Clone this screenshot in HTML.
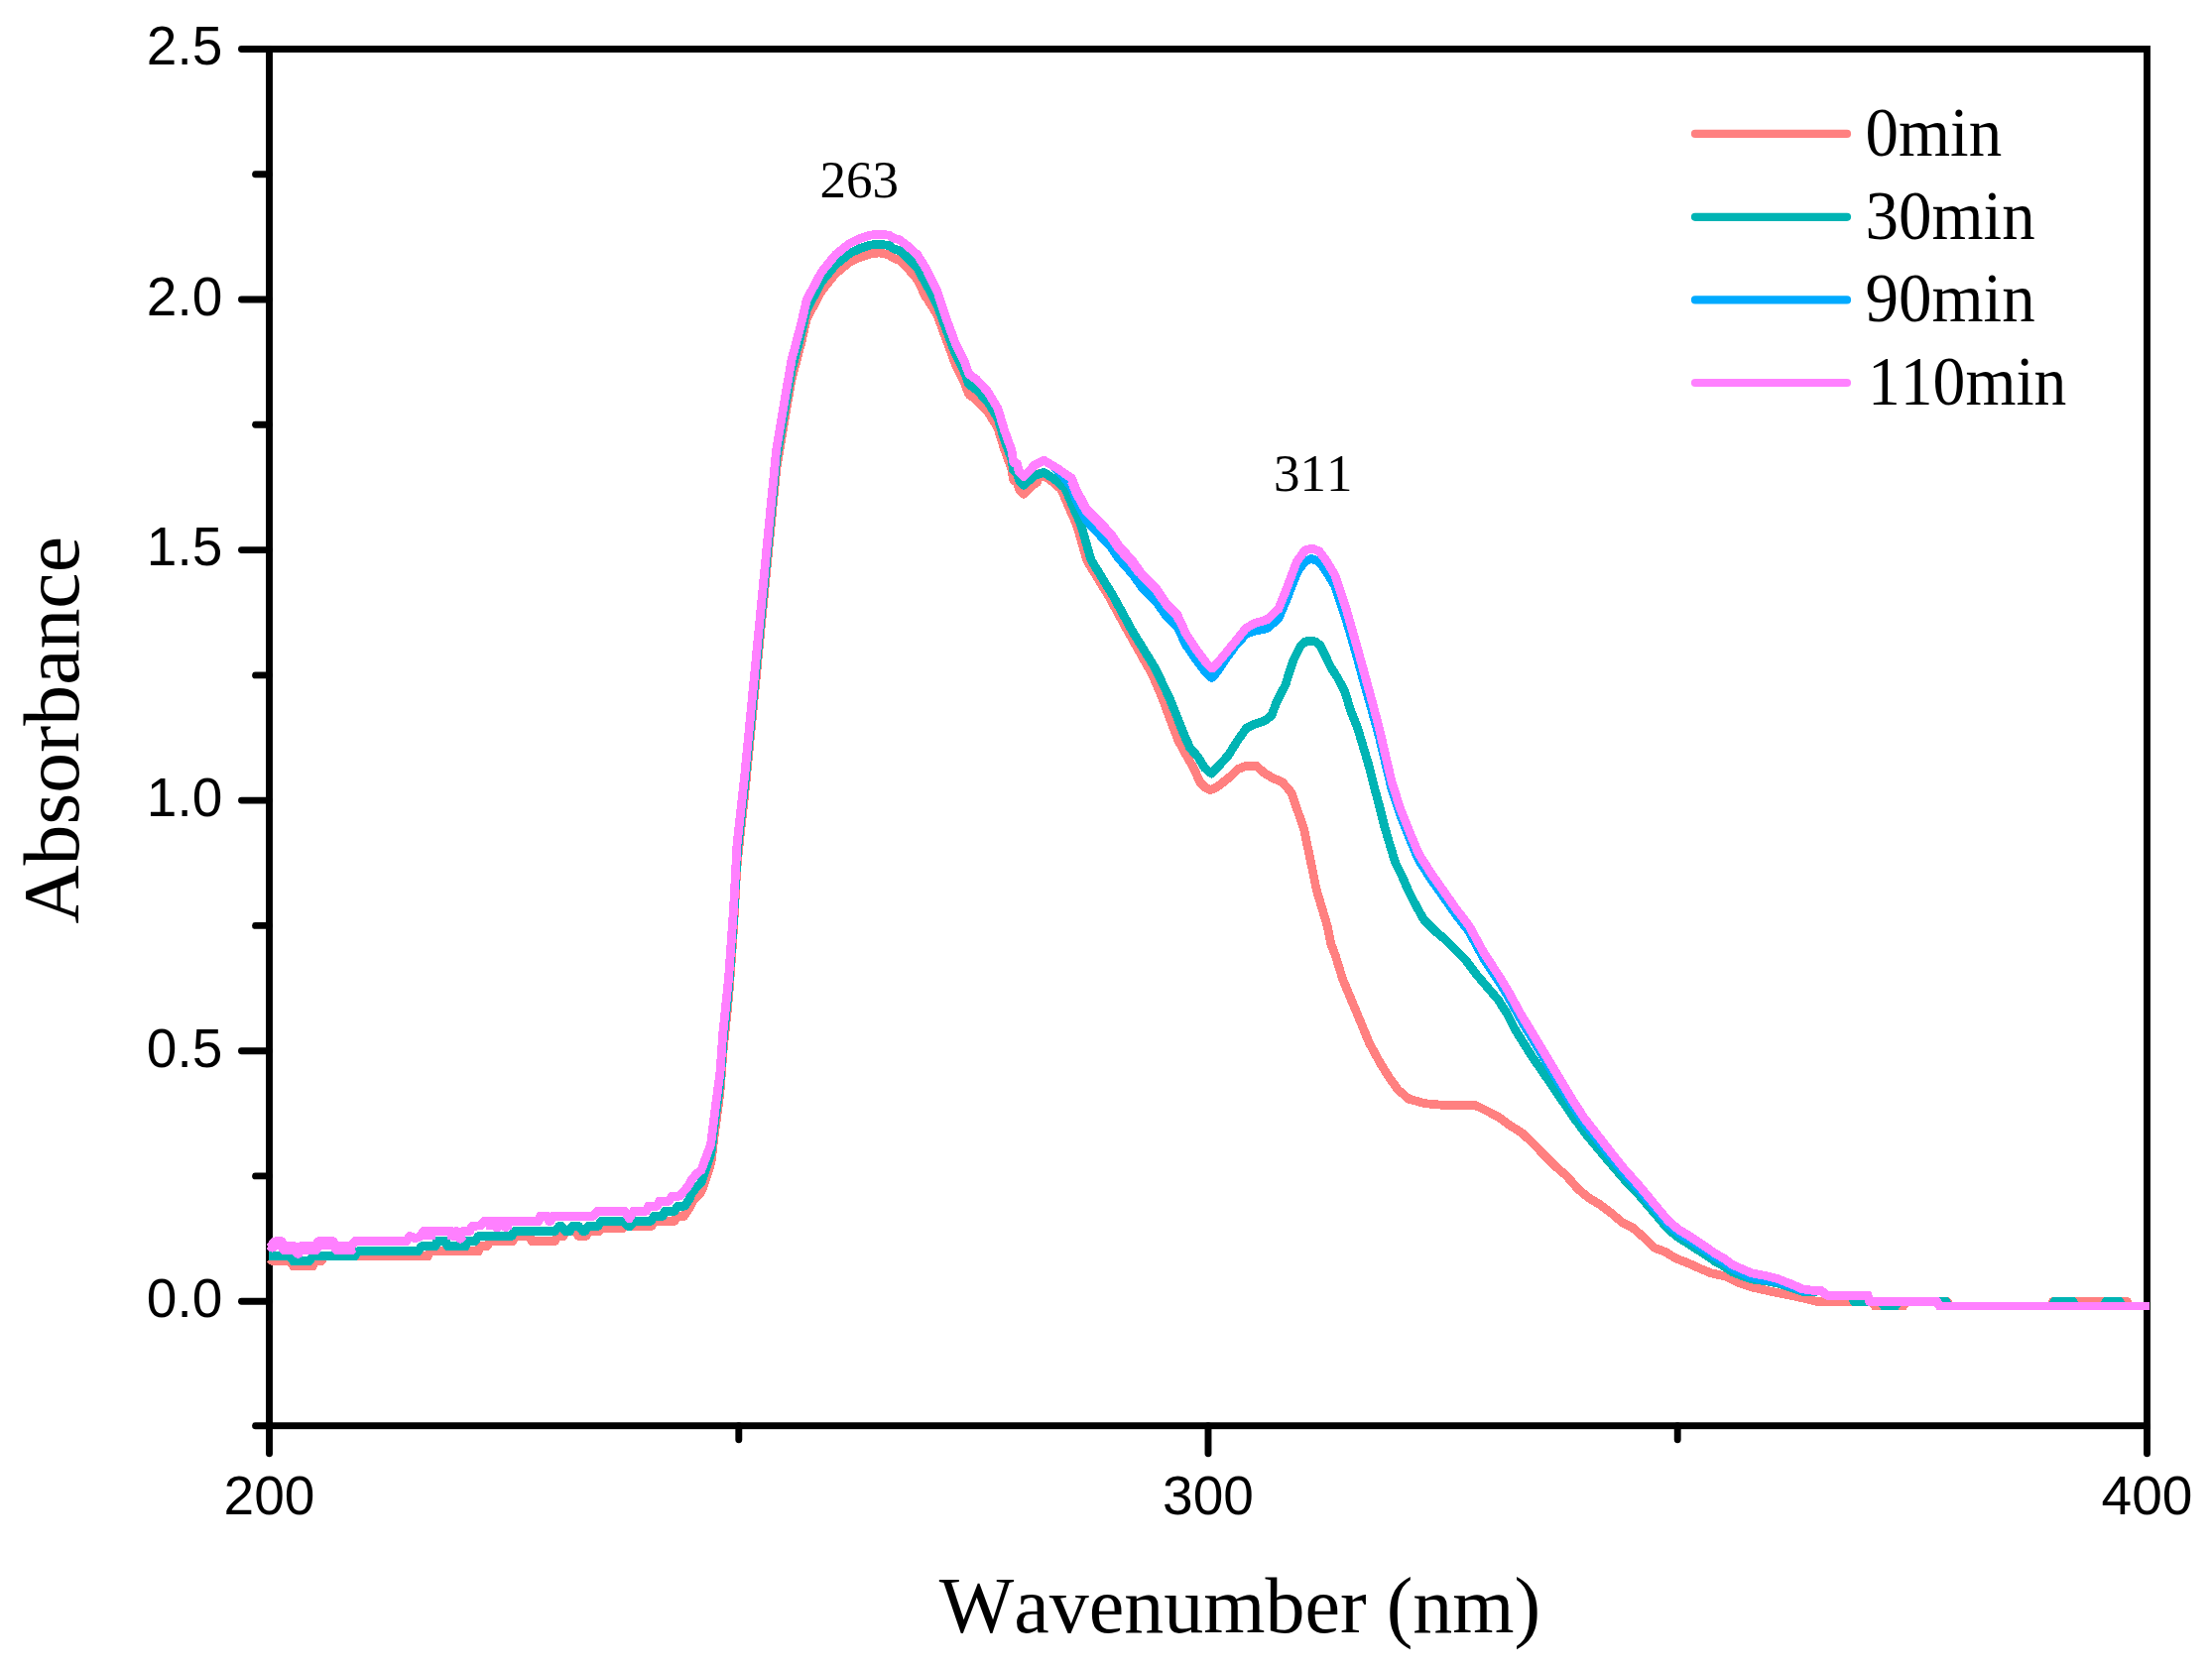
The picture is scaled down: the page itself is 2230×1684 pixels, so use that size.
<!DOCTYPE html>
<html lang="en"><head><meta charset="utf-8"><title>Absorbance spectra</title>
<style>html,body{margin:0;padding:0;background:#fff}svg{display:block}</style></head>
<body>
<svg width="2230" height="1684" viewBox="0 0 2230 1684">
<rect width="2230" height="1684" fill="#fff"/>
<g stroke="#000" stroke-width="6.9" fill="none" stroke-linecap="round">
<line x1="257.5" y1="1437.7" x2="271.5" y2="1437.7"/>
<line x1="243.5" y1="1312.2" x2="271.5" y2="1312.2"/>
<line x1="257.5" y1="1185.9" x2="271.5" y2="1185.9"/>
<line x1="243.5" y1="1059.7" x2="271.5" y2="1059.7"/>
<line x1="257.5" y1="933.4" x2="271.5" y2="933.4"/>
<line x1="243.5" y1="807.1" x2="271.5" y2="807.1"/>
<line x1="257.5" y1="680.9" x2="271.5" y2="680.9"/>
<line x1="243.5" y1="554.6" x2="271.5" y2="554.6"/>
<line x1="257.5" y1="428.3" x2="271.5" y2="428.3"/>
<line x1="243.5" y1="302.0" x2="271.5" y2="302.0"/>
<line x1="257.5" y1="175.8" x2="271.5" y2="175.8"/>
<line x1="243.5" y1="49.5" x2="271.5" y2="49.5"/>
<line x1="271.5" y1="1437.7" x2="271.5" y2="1465.7"/>
<line x1="744.8" y1="1437.7" x2="744.8" y2="1451.7"/>
<line x1="1218.0" y1="1437.7" x2="1218.0" y2="1465.7"/>
<line x1="1691.2" y1="1437.7" x2="1691.2" y2="1451.7"/>
<line x1="2164.5" y1="1437.7" x2="2164.5" y2="1465.7"/>
</g>
<rect x="271.5" y="49.5" width="1893.0" height="1388.2" fill="none" stroke="#000" stroke-width="6.9"/>
<g fill="none" stroke-width="8.8" stroke-linejoin="round" stroke-linecap="butt" shape-rendering="crispEdges">
<path stroke="#FF8080" d="M271.4 1269.3L275.2 1271.8L292.5 1271.8L295.8 1276.8L315.3 1276.8L317.5 1271.8L324.0 1271.8L327.3 1266.7L431.4 1266.7L433.6 1261.7L482.4 1261.7L483.5 1256.6L491.1 1256.6L493.3 1251.6L517.1 1251.6L518.8 1246.5L534.5 1246.5L536.1 1251.6L559.4 1251.6L562.1 1246.5L568.1 1246.5L570.3 1241.5L580.1 1241.5L583.3 1246.5L590.9 1246.5L593.1 1241.5L603.9 1241.5L606.6 1238.5L627.8 1238.5L630.0 1236.4L657.1 1236.4L659.3 1231.4L679.9 1231.4L682.0 1226.3L689.6 1226.3L690.0 1225.2L691.5 1223.2L693.0 1221.2L694.5 1219.0L696.0 1215.9L697.5 1212.8L699.0 1210.6L700.5 1208.7L702.0 1206.8L703.5 1205.3L705.0 1203.9L706.5 1202.5L708.0 1199.1L709.5 1194.8L711.0 1190.5L712.5 1186.1L714.0 1181.8L715.5 1177.5L717.0 1171.3L718.5 1159.1L720.0 1146.8L721.5 1134.8L723.0 1123.6L724.5 1112.3L726.0 1101.1L727.5 1080.3L729.0 1059.8L730.5 1045.4L732.0 1031.0L733.5 1016.5L735.0 1000.4L736.5 979.4L738.0 958.4L739.5 936.9L741.0 908.9L742.5 880.9L744.0 862.5L745.5 848.9L747.0 835.2L748.5 821.6L750.0 807.9L751.5 793.6L753.0 778.2L754.5 762.8L756.0 747.3L757.5 731.9L759.0 716.5L760.5 701.1L762.0 685.7L763.5 670.3L765.0 654.9L766.5 639.5L768.0 624.1L769.5 608.7L771.0 593.3L772.5 577.9L774.0 562.5L775.5 547.1L777.0 531.7L778.5 516.3L780.0 500.9L781.5 485.5L783.0 471.1L784.5 462.1L786.0 453.1L787.5 444.1L789.0 435.1L790.5 426.1L792.0 417.1L793.5 408.5L795.0 399.9L796.5 391.4L798.0 382.8L799.5 376.9L801.0 371.2L802.5 365.5L804.0 359.9L805.5 354.2L807.0 348.5L808.5 342.4L810.0 335.8L811.5 329.3L813.0 322.7L814.5 319.2L816.0 316.3L817.5 313.5L819.0 310.7L820.5 307.9L822.0 305.1L823.5 302.3L825.0 299.5L826.5 296.6L828.0 293.8L829.5 291.8L831.0 289.9L832.5 288.1L834.0 286.2L835.5 284.3L837.0 282.5L838.5 280.6L840.0 278.8L841.5 276.9L843.0 275.3L844.5 274.1L846.0 272.9L847.5 271.7L849.0 270.4L850.5 269.2L852.0 268.0L853.5 266.8L855.0 265.6L856.5 264.4L858.0 263.7L859.5 263.0L861.0 262.2L862.5 261.5L864.0 260.8L865.5 260.0L867.0 259.4L868.5 258.9L870.0 258.4L871.5 257.9L873.0 257.4L874.5 256.9L876.0 256.4L877.5 255.9L879.0 255.7L880.5 255.6L882.0 255.4L883.5 255.3L885.0 255.1L886.5 255.0L888.0 255.3L889.5 255.6L891.0 255.8L892.5 256.1L894.0 256.4L895.5 256.7L897.0 257.3L898.5 258.5L900.0 259.7L901.5 260.5L903.0 261.1L904.5 261.6L906.0 262.2L907.5 263.2L909.0 264.4L910.5 265.7L912.0 267.2L913.5 268.7L915.0 270.5L916.5 272.2L918.0 274.0L919.5 275.7L921.0 277.4L922.5 279.2L924.0 280.9L925.5 283.1L927.0 286.3L928.5 289.5L930.0 292.6L931.5 295.8L933.0 299.0L934.5 300.9L936.0 303.3L937.5 305.7L939.0 308.1L940.5 310.5L942.0 312.9L943.5 315.2L945.0 317.7L946.5 321.8L948.0 326.0L949.5 330.1L951.0 334.3L952.5 338.4L954.0 342.6L955.5 346.5L957.0 350.6L958.5 354.6L960.0 358.7L961.5 362.8L963.0 366.8L964.5 369.9L966.0 372.9L967.5 375.9L969.0 378.9L970.5 381.9L972.0 384.9L973.5 388.8L975.0 393.0L976.5 397.2L978.0 398.8L979.5 399.8L981.0 400.8L982.5 401.9L984.0 402.9L985.5 404.3L987.0 405.9L988.5 407.4L990.0 409.0L991.5 410.5L993.0 412.1L994.5 413.6L996.0 415.4L997.5 417.8L999.0 420.3L1000.5 422.7L1002.0 425.1L1003.5 427.5L1005.0 429.9L1006.5 433.3L1008.0 438.2L1009.5 443.0L1011.0 447.9L1012.5 452.8L1014.0 456.9L1015.5 460.9L1017.0 465.0L1018.5 469.0L1020.0 473.0L1021.5 483.4L1023.0 485.1L1024.5 485.5L1026.0 487.7L1027.5 493.6L1029.0 495.1L1030.5 496.6L1032.0 498.1L1033.5 496.9L1035.0 495.4L1036.5 493.9L1038.0 492.4L1039.5 491.0L1041.0 489.7L1042.5 488.3L1044.0 487.2L1045.5 486.6L1048.4 477.4L1059.3 484.3L1069.8 493.3L1085.5 529.5L1096.0 565.7L1118.1 601.8L1137.9 638.0L1161.6 680.0L1171.6 703.5L1179.7 725.2L1187.9 746.9L1196.9 763.2L1204.1 775.8L1209.6 788.5L1215.0 794.0L1220.4 796.6L1226.0 794.0L1231.3 790.3L1240.3 783.1L1247.5 775.8L1256.6 772.2L1266.5 772.2L1274.7 779.5L1283.7 784.9L1292.7 788.5L1301.8 799.3L1308.1 817.4L1314.4 835.5L1319.0 857.2L1323.5 878.9L1327.1 897.0L1332.5 915.1L1338.0 933.2L1341.6 951.3L1346.3 963.5L1353.5 987.0L1362.5 1008.7L1371.6 1030.4L1380.6 1052.1L1391.5 1072.0L1400.5 1086.5L1409.6 1099.1L1420.4 1108.2L1436.7 1112.7L1456.6 1114.5L1487.3 1114.5L1498.2 1119.9L1510.8 1126.3L1521.7 1134.4L1534.3 1142.5L1547.0 1154.3L1557.8 1166.0L1566.9 1175.1L1579.5 1185.9L1590.4 1198.6L1601.2 1207.6L1613.6 1215.1L1624.4 1223.2L1635.3 1232.7L1646.1 1238.1L1657.0 1247.6L1667.8 1258.2L1678.7 1262.3L1689.5 1269.0L1700.4 1273.1L1713.9 1279.2L1724.8 1283.7L1739.7 1287.1L1751.9 1293.2L1765.5 1297.8L1780.4 1301.2L1800.7 1305.3L1822.4 1310.0L1830.6 1312.2L1888.0 1312.4L1890.0 1316.9L1919.0 1316.9L1921.0 1312.4L1963.0 1312.4L1965.5 1316.9L2067.5 1316.9L2069.5 1312.4L2144.5 1312.4L2146.5 1316.9L2167.0 1316.9"/>
<path stroke="#00B4B4" d="M271.4 1266.7L292.5 1266.7L295.8 1271.8L312.1 1271.8L315.3 1266.7L357.6 1266.7L360.9 1261.7L421.7 1261.7L424.9 1256.6L439.0 1256.6L440.1 1251.6L449.9 1251.6L450.9 1256.6L469.4 1256.6L470.5 1251.6L479.2 1251.6L482.4 1246.5L516.0 1246.5L518.2 1241.5L559.4 1241.5L563.8 1236.4L565.9 1236.4L570.3 1241.5L574.6 1241.5L576.8 1236.4L583.3 1236.4L587.6 1241.5L589.8 1241.5L593.1 1236.4L602.8 1236.4L606.1 1231.4L628.9 1231.4L633.2 1236.4L635.4 1236.4L639.7 1231.4L656.0 1231.4L659.3 1226.3L667.9 1226.3L670.1 1221.3L679.9 1221.3L683.1 1216.2L690.0 1216.2L691.5 1214.2L693.0 1212.1L694.5 1209.9L696.0 1206.7L697.5 1203.6L699.0 1201.3L700.5 1199.4L702.0 1197.5L703.5 1195.9L705.0 1194.4L706.5 1193.0L708.0 1189.6L709.5 1185.2L711.0 1180.8L712.5 1176.4L714.0 1172.0L715.5 1167.6L717.0 1161.4L718.5 1149.1L720.0 1136.8L721.5 1124.9L723.0 1113.6L724.5 1102.4L726.0 1091.1L727.5 1070.3L729.0 1049.9L730.5 1035.5L732.0 1021.1L733.5 1006.7L735.0 990.5L736.5 969.5L738.0 948.5L739.5 927.1L741.0 899.1L742.5 871.1L744.0 852.7L745.5 839.1L747.0 825.4L748.5 811.8L750.0 798.2L751.5 783.8L753.0 768.4L754.5 753.0L756.0 737.6L757.5 722.3L759.0 706.9L760.5 691.5L762.0 676.1L763.5 660.7L765.0 645.3L766.5 629.9L768.0 614.5L769.5 599.1L771.0 583.7L772.5 568.3L774.0 552.9L775.5 537.5L777.0 522.2L778.5 506.8L780.0 491.4L781.5 476.0L783.0 461.7L784.5 452.7L786.0 443.7L787.5 434.7L789.0 425.7L790.5 416.7L792.0 407.7L793.5 399.1L795.0 390.6L796.5 382.0L798.0 373.4L799.5 367.5L801.0 361.9L802.5 356.2L804.0 350.6L805.5 344.9L807.0 339.2L808.5 333.1L810.0 326.6L811.5 320.0L813.0 313.5L814.5 309.9L816.0 307.1L817.5 304.3L819.0 301.5L820.5 298.7L822.0 295.9L823.5 293.1L825.0 290.3L826.5 287.5L828.0 284.7L829.5 282.7L831.0 280.8L832.5 279.0L834.0 277.1L835.5 275.3L837.0 273.5L838.5 271.6L840.0 269.8L841.5 267.9L843.0 266.3L844.5 265.1L846.0 263.9L847.5 262.7L849.0 261.5L850.5 260.3L852.0 259.1L853.5 257.9L855.0 256.7L856.5 255.5L858.0 254.8L859.5 254.0L861.0 253.3L862.5 252.6L864.0 251.9L865.5 251.2L867.0 250.5L868.5 250.0L870.0 249.5L871.5 249.0L873.0 248.5L874.5 248.0L876.0 247.5L877.5 247.1L879.0 246.9L880.5 246.8L882.0 246.6L883.5 246.5L885.0 246.3L886.5 246.2L888.0 246.4L889.5 246.6L891.0 246.8L892.5 247.0L894.0 247.2L895.5 247.4L897.0 248.0L898.5 249.1L900.0 250.2L901.5 251.0L903.0 251.4L904.5 251.9L906.0 252.4L907.5 253.4L909.0 254.5L910.5 255.6L912.0 256.9L913.5 258.3L915.0 259.8L916.5 261.3L918.0 262.9L919.5 264.4L921.0 266.0L922.5 267.5L924.0 269.1L925.5 271.0L927.0 273.9L928.5 276.8L930.0 279.7L931.5 282.6L933.0 285.5L934.5 287.9L936.0 290.7L937.5 293.5L939.0 296.3L940.5 299.2L942.0 302.0L943.5 304.8L945.0 307.7L946.5 311.8L948.0 316.0L949.5 320.1L951.0 324.3L952.5 328.4L954.0 332.6L955.5 336.5L957.0 340.5L958.5 344.5L960.0 348.5L961.5 352.5L963.0 356.5L964.5 359.5L966.0 362.4L967.5 365.4L969.0 368.4L970.5 371.4L972.0 374.4L973.5 378.4L975.0 382.6L976.5 386.8L978.0 388.4L979.5 389.5L981.0 390.5L982.5 391.6L984.0 392.6L985.5 394.0L987.0 395.6L988.5 397.2L990.0 398.8L991.5 400.3L993.0 401.9L994.5 403.5L996.0 405.3L997.5 407.8L999.0 410.3L1000.5 412.7L1002.0 415.2L1003.5 417.6L1005.0 420.1L1006.5 423.5L1008.0 428.4L1009.5 433.3L1011.0 438.2L1012.5 443.1L1014.0 447.4L1015.5 451.4L1017.0 455.5L1018.5 459.6L1020.0 463.6L1021.5 474.0L1023.0 475.8L1024.5 476.3L1026.0 478.5L1027.5 484.4L1029.0 486.0L1030.5 487.5L1032.0 489.1L1033.5 488.1L1035.0 486.6L1036.5 485.2L1038.0 483.9L1039.5 482.7L1041.0 481.4L1042.5 480.2L1044.0 479.2L1045.5 478.7L1047.0 478.2L1048.5 477.7L1050.0 477.2L1051.5 476.7L1052.4 476.4L1063.3 483.3L1073.8 492.3L1089.5 528.5L1100.0 564.7L1122.1 600.8L1141.9 637.0L1164.2 673.2L1178.8 703.5L1186.1 721.6L1193.3 739.7L1199.6 754.1L1207.8 763.2L1214.1 774.0L1221.3 780.0L1229.0 772.0L1238.5 761.4L1247.5 746.9L1256.6 734.2L1263.8 730.6L1274.7 727.0L1281.9 721.6L1287.3 707.1L1295.7 691.2L1303.8 665.9L1311.0 651.5L1316.0 647.0L1321.0 646.0L1326.0 647.0L1330.9 650.6L1341.8 673.2L1348.8 684.0L1356.0 698.1L1361.5 716.2L1368.7 734.2L1374.1 752.3L1379.5 770.4L1385.0 792.1L1390.4 812.0L1395.8 833.7L1401.2 851.8L1406.7 869.9L1413.9 884.3L1419.3 897.0L1426.6 911.5L1435.6 927.7L1446.5 938.6L1457.3 947.6L1468.2 958.5L1478.3 968.9L1489.1 983.4L1500.0 996.1L1510.8 1008.7L1519.9 1023.2L1527.1 1037.6L1536.1 1052.1L1545.2 1066.6L1554.2 1079.2L1557.0 1083.3L1559.0 1086.3L1561.0 1089.2L1563.0 1092.2L1565.0 1095.1L1567.0 1098.1L1569.0 1101.0L1571.0 1104.0L1573.0 1106.9L1575.0 1109.9L1577.0 1112.8L1579.0 1115.8L1581.0 1118.8L1583.0 1121.7L1585.0 1124.7L1587.0 1127.6L1589.0 1130.2L1591.0 1132.8L1593.0 1135.5L1595.0 1138.4L1597.0 1141.2L1599.0 1143.7L1601.0 1146.1L1603.0 1148.5L1605.0 1150.9L1607.0 1153.3L1609.0 1155.7L1611.0 1158.1L1613.0 1160.5L1615.0 1162.9L1617.0 1165.3L1619.0 1167.7L1621.0 1170.1L1623.0 1172.5L1625.0 1174.8L1627.0 1177.2L1629.0 1179.5L1631.0 1181.8L1633.0 1184.1L1635.0 1186.5L1637.0 1188.8L1639.0 1190.9L1641.0 1193.0L1643.0 1195.1L1645.0 1197.2L1647.0 1199.2L1649.0 1201.3L1651.0 1203.4L1653.0 1205.7L1655.0 1208.1L1657.0 1210.4L1659.0 1212.8L1661.0 1215.1L1663.0 1217.5L1665.0 1219.8L1667.0 1222.1L1669.0 1224.5L1671.0 1226.8L1673.0 1229.2L1675.0 1231.5L1677.0 1233.9L1679.0 1236.2L1681.0 1238.6L1683.0 1240.4L1685.0 1242.1L1687.0 1243.7L1689.0 1245.4L1691.0 1247.1L1693.0 1248.6L1695.0 1249.8L1697.0 1251.0L1699.0 1252.2L1701.0 1253.4L1703.0 1254.6L1705.0 1255.9L1707.0 1257.2L1709.0 1258.6L1711.0 1259.9L1713.0 1261.1L1715.0 1262.4L1717.0 1263.7L1719.0 1265.0L1721.0 1266.4L1723.0 1267.7L1725.0 1269.1L1727.0 1270.5L1729.0 1271.9L1731.0 1273.0L1733.0 1274.1L1735.0 1275.2L1737.0 1276.3L1739.0 1277.6L1741.0 1279.0L1743.0 1280.4L1745.0 1281.7L1747.0 1283.0L1749.0 1283.7L1751.0 1284.5L1753.0 1285.3L1755.0 1286.1L1757.0 1286.8L1759.0 1287.6L1761.0 1288.3L1763.0 1289.0L1765.0 1289.7L1767.0 1290.1L1769.0 1290.3L1771.0 1290.6L1773.0 1290.8L1775.0 1291.1L1777.0 1291.3L1779.0 1291.6L1781.0 1291.9L1783.0 1292.3L1785.0 1292.7L1787.0 1293.1L1789.0 1293.4L1791.0 1293.8L1793.0 1294.3L1795.0 1294.9L1797.0 1295.6L1799.0 1296.3L1801.0 1297.0L1803.0 1297.6L1805.0 1298.2L1807.0 1298.8L1809.0 1299.5L1811.0 1300.2L1813.0 1300.8L1815.0 1301.5L1817.0 1302.2L1819.0 1302.2L1821.0 1302.3L1823.0 1302.4L1825.0 1302.4L1827.0 1302.5L1829.0 1302.4L1831.0 1302.2L1833.0 1302.0L1835.0 1301.8L1837.0 1302.5L1839.0 1304.1L1841.0 1305.8L1843.0 1306.2L1845.0 1306.2L1847.0 1306.2L1849.0 1306.2L1851.0 1306.2L1853.0 1306.2L1855.0 1306.2L1857.0 1306.2L1859.0 1306.2L1861.0 1306.2L1863.0 1306.2L1865.0 1306.2L1867.0 1306.4L1869.0 1312.4L1897.0 1312.4L1899.0 1316.9L1911.0 1316.9L1913.0 1312.4L1962.0 1312.4L1964.0 1316.9L2069.0 1316.9L2071.0 1312.4L2090.0 1312.4L2092.0 1316.9L2121.0 1316.9L2123.0 1312.4L2137.0 1312.4L2139.0 1316.9L2167.0 1316.9"/>
<path stroke="#00AAFF" d="M1058.0 467.6L1059.5 468.5L1061.0 469.4L1062.5 470.5L1064.0 472.0L1065.5 473.5L1067.0 475.1L1068.5 476.7L1070.0 478.3L1071.5 480.0L1073.0 481.8L1074.5 483.8L1076.0 485.8L1077.5 487.7L1079.0 489.7L1080.5 491.8L1082.0 495.9L1083.5 500.0L1085.0 504.1L1086.5 507.1L1088.0 510.1L1089.5 513.1L1091.0 516.2L1092.5 519.2L1094.0 522.2L1095.5 524.8L1097.0 526.6L1098.5 528.4L1100.0 530.3L1101.5 531.8L1103.0 533.4L1104.5 535.0L1106.0 536.5L1107.5 538.1L1109.0 539.8L1110.5 541.4L1112.0 543.0L1113.5 544.6L1115.0 546.2L1116.5 547.8L1118.0 549.4L1119.5 551.0L1121.0 553.0L1122.5 555.3L1124.0 557.6L1125.5 559.8L1127.0 562.1L1128.5 563.9L1130.0 565.6L1131.5 567.3L1133.0 569.0L1134.5 570.7L1136.0 572.4L1137.5 574.1L1139.0 575.9L1140.5 577.6L1142.0 579.3L1143.5 581.4L1145.0 583.6L1146.5 585.7L1148.0 587.8L1149.5 589.9L1151.0 591.9L1152.5 593.5L1154.0 595.0L1155.5 596.5L1157.0 598.0L1158.5 599.5L1160.0 601.0L1161.5 602.6L1163.0 604.1L1164.5 605.6L1166.0 607.4L1167.5 609.5L1169.0 611.6L1170.5 613.7L1172.0 615.8L1173.5 617.9L1175.0 620.0L1176.5 621.8L1178.0 623.2L1179.5 624.7L1181.0 626.1L1182.5 627.5L1184.0 629.0L1185.5 630.4L1187.0 631.8L1188.5 635.1L1190.0 638.3L1191.5 641.6L1193.0 644.8L1194.5 648.0L1196.0 650.9L1197.5 653.0L1199.0 655.1L1200.5 657.3L1202.0 659.5L1203.5 661.7L1205.0 663.9L1206.5 666.1L1208.0 668.1L1209.5 670.1L1211.0 672.1L1212.5 674.1L1214.0 676.1L1215.5 678.1L1217.0 679.6L1218.5 681.0L1220.0 682.3L1221.5 683.6L1223.0 682.8L1224.5 680.8L1226.0 678.8L1227.5 676.8L1229.0 674.6L1230.5 672.3L1232.0 670.0L1233.5 667.7L1235.0 665.4L1236.5 663.4L1238.0 661.3L1239.5 659.3L1241.0 657.2L1242.5 655.2L1244.0 653.1L1245.5 651.2L1247.0 649.5L1248.5 647.8L1250.0 646.1L1251.5 644.5L1253.0 642.8L1254.5 641.1L1256.0 639.5L1257.5 638.9L1259.0 638.3L1260.5 637.7L1262.0 637.1L1263.5 636.5L1265.0 636.2L1266.5 636.0L1268.0 635.7L1269.5 635.4L1271.0 635.0L1272.5 634.7L1274.0 634.4L1275.5 634.0L1277.0 633.7L1278.5 632.7L1280.0 631.4L1281.5 630.1L1283.0 628.8L1284.5 627.6L1286.0 626.3L1287.5 625.0L1289.0 623.7L1290.5 620.1L1292.0 616.5L1293.5 613.0L1295.0 609.4L1296.5 605.9L1298.0 602.0L1299.5 598.2L1301.0 594.3L1302.5 590.5L1304.0 586.6L1305.5 582.7L1307.0 578.6L1308.5 575.9L1310.0 573.8L1311.5 571.7L1313.0 569.6L1314.5 567.5L1316.0 565.7L1317.5 565.2L1319.0 564.7L1320.5 564.1L1322.0 563.6L1323.5 563.8L1325.0 564.4L1326.5 565.1L1328.0 565.8L1329.5 566.5L1331.0 568.1L1332.5 570.1L1334.0 572.2L1335.5 574.2L1337.0 576.3L1338.5 578.9L1340.0 581.4L1341.5 583.9L1343.0 586.4L1344.5 588.9L1346.0 591.4L1347.5 595.6L1349.0 600.3L1350.5 604.9L1352.0 609.5L1353.5 614.0L1355.0 618.5L1356.5 623.1L1358.0 627.7L1359.5 632.9L1361.0 638.1L1362.5 643.4L1364.0 648.6L1365.5 653.8L1367.0 659.1L1368.5 664.3L1370.0 669.7L1371.5 675.2L1373.0 680.6L1374.5 686.1L1376.0 691.6L1377.5 696.8L1379.0 702.1L1380.5 707.3L1382.0 712.6L1383.5 717.9L1385.0 723.3L1386.5 728.7L1388.0 734.1L1389.5 739.5L1391.0 745.2L1392.5 751.5L1394.0 757.8L1395.5 764.1L1397.0 770.4L1398.5 776.7L1400.0 783.0L1401.5 789.3L1403.0 795.6L1404.5 800.3L1406.0 804.8L1407.5 809.4L1409.0 813.9L1410.5 818.5L1412.0 822.9L1413.5 826.6L1415.0 830.3L1416.5 834.1L1418.0 837.8L1419.5 841.5L1421.0 845.2L1422.5 848.8L1424.0 852.4L1425.5 856.0L1427.0 859.6L1428.5 863.1L1430.0 866.7L1431.5 869.2L1433.0 871.5L1434.5 873.9L1436.0 876.2L1437.5 878.5L1439.0 880.9L1440.5 883.2L1442.0 885.5L1443.5 887.8L1445.0 889.9L1446.5 892.0L1448.0 894.1L1449.5 896.2L1451.0 898.4L1452.5 900.5L1454.0 902.7L1455.5 904.8L1457.0 906.9L1458.5 909.1L1460.0 911.2L1461.5 913.3L1463.0 915.5L1464.5 917.6L1466.0 919.7L1467.5 921.9L1469.0 923.9L1470.5 925.8L1472.0 927.7L1473.5 929.7L1475.0 931.6L1476.5 933.5L1478.0 935.4L1479.5 937.4L1481.0 939.4L1482.5 942.1L1484.0 944.9L1485.5 947.6L1487.0 950.4L1488.5 953.1L1490.0 955.9L1491.5 958.6L1493.0 961.4L1494.5 964.1L1496.0 966.8L1497.5 969.2L1499.0 971.5L1500.5 973.7L1502.0 975.9L1503.5 978.2L1505.0 980.4L1506.5 982.7L1508.0 984.9L1509.5 987.1L1511.0 989.4L1512.5 991.9L1514.0 994.4L1515.5 996.9L1517.0 999.4L1518.5 1001.9L1520.0 1004.4L1521.5 1006.9L1523.0 1009.6L1524.5 1012.3L1526.0 1015.0L1527.5 1017.8L1529.0 1020.5L1530.5 1023.3L1532.0 1026.0L1533.5 1028.6L1535.0 1031.1L1536.5 1033.6L1538.0 1036.1L1539.5 1038.6L1541.0 1041.0L1542.5 1043.5L1544.0 1046.0L1545.5 1048.5L1547.0 1051.0L1548.5 1053.5L1550.0 1056.0L1551.5 1058.5L1553.0 1061.0L1554.5 1063.4L1556.0 1065.9L1557.5 1068.4L1559.0 1070.9L1560.5 1073.4L1562.0 1075.9L1563.5 1078.4L1565.0 1080.8L1566.5 1083.3L1568.0 1085.8L1569.5 1088.3L1571.0 1090.8L1572.5 1093.3L1574.0 1095.7L1575.5 1098.2L1577.0 1100.7L1578.5 1103.2L1580.0 1105.7L1581.5 1108.2L1583.0 1110.7L1584.5 1113.1L1586.0 1115.6L1587.5 1118.0L1589.0 1120.2L1590.5 1122.5L1592.0 1124.7L1593.5 1126.9L1595.0 1129.2L1596.5 1131.4L1598.0 1133.6L1599.5 1135.5L1601.0 1137.4L1602.5 1139.3L1604.0 1141.2L1605.5 1143.1L1607.0 1145.0L1608.5 1146.9L1610.0 1148.8L1611.5 1150.7L1613.0 1152.6L1614.5 1154.5L1616.0 1156.4L1617.5 1158.4L1619.0 1160.3L1620.5 1162.2L1622.0 1164.1L1623.5 1166.0L1625.0 1167.8L1626.5 1169.7L1628.0 1171.5L1629.5 1173.4L1631.0 1175.2L1632.5 1177.1L1634.0 1178.9L1635.5 1180.8L1637.0 1182.6L1638.5 1184.3L1640.0 1186.0L1641.5 1187.7L1643.0 1189.3L1644.5 1191.0L1646.0 1192.7L1647.5 1194.3L1649.0 1196.0L1650.5 1197.7L1652.0 1199.3L1653.5 1201.1L1655.0 1202.9L1656.5 1204.7L1658.0 1206.5L1659.5 1208.3L1661.0 1210.1L1662.5 1211.8L1664.0 1213.6L1665.5 1215.4L1667.0 1217.2L1668.5 1219.0L1670.0 1220.8L1671.5 1222.6L1673.0 1224.3L1674.5 1226.1L1676.0 1227.9L1677.5 1229.7L1679.0 1231.5L1680.5 1233.3L1682.0 1234.9L1683.5 1236.1L1685.0 1237.4L1686.5 1238.7L1688.0 1240.0L1689.5 1241.2L1691.0 1242.5L1692.5 1243.7L1694.0 1244.6L1695.5 1245.6L1697.0 1246.5L1698.5 1247.4L1700.0 1248.3L1701.5 1249.2L1703.0 1250.1L1704.5 1251.1L1706.0 1252.1L1707.5 1253.1L1709.0 1254.1L1710.5 1255.1L1712.0 1256.1L1713.5 1257.1L1715.0 1258.0L1716.5 1259.0L1718.0 1260.0L1719.5 1261.0L1721.0 1262.1L1722.5 1263.1L1724.0 1264.2L1725.5 1265.2L1727.0 1266.3L1728.5 1267.3L1730.0 1268.2L1731.5 1269.1L1733.0 1269.9L1734.5 1270.8L1736.0 1271.6L1737.5 1272.5L1739.0 1273.5L1740.5 1274.6L1742.0 1275.8L1743.5 1276.9L1745.0 1278.1L1746.5 1279.2L1748.0 1279.9L1749.5 1280.7L1751.0 1281.4L1752.5 1282.1L1754.0 1282.8L1755.5 1283.5L1757.0 1284.2L1758.5 1284.9L1760.0 1285.5L1761.5 1286.2L1763.0 1286.9L1764.5 1287.6L1766.0 1288.1L1767.5 1288.4L1769.0 1288.7L1770.5 1289.0L1772.0 1289.4L1773.5 1289.7L1775.0 1290.0L1776.5 1290.3L1778.0 1290.4L1779.5 1290.6L1781.0 1290.9L1782.5 1291.1L1784.0 1291.4L1785.5 1291.6L1787.0 1291.9L1788.5 1292.2L1790.0 1292.4L1791.5 1292.7L1793.0 1293.0L1794.5 1293.5L1796.0 1294.0L1797.5 1294.5L1799.0 1294.9L1800.5 1295.4L1802.0 1295.9L1803.5 1296.4L1805.0 1296.9L1806.5 1297.4L1808.0 1298.0L1809.5 1298.5L1811.0 1299.1L1812.5 1299.7L1814.0 1300.2L1815.5 1300.8L1817.0 1301.3L1818.5 1301.5L1820.0 1301.6L1821.5 1301.7L1823.0 1301.8L1824.5 1301.9L1826.0 1302.0L1827.5 1302.1L1829.0 1302.1L1830.5 1302.0L1832.0 1301.9L1833.5 1301.8L1835.0 1301.7L1836.5 1302.0L1838.0 1303.3L1839.5 1304.5L1841.0 1305.8L1842.5 1306.2L1844.0 1306.2L1845.5 1306.2L1847.0 1306.2L1848.5 1306.2L1850.0 1306.2L1851.5 1306.2L1853.0 1306.2L1854.5 1306.2L1856.0 1306.2L1857.5 1306.2L1859.0 1306.2L1860.5 1306.2L1862.0 1306.2L1863.5 1306.2L1865.0 1306.2L1866.5 1306.2L1868.0 1306.2L1869.5 1306.2L1871.0 1306.2L1872.5 1306.2L1874.0 1306.2L1875.5 1306.2L1877.0 1306.2L1878.5 1306.2L1883.1 1306.2L1884.5 1312.4L1953.0 1312.4L1955.0 1316.9L2167.0 1316.9"/>
<path stroke="#FF80FF" d="M271.5 1256.0L272.5 1256.9L273.5 1257.9L274.5 1258.2L275.5 1257.6L276.5 1257.0L277.5 1256.4L278.5 1255.9L279.5 1255.9L280.5 1255.9L281.5 1255.9L282.5 1255.9L283.5 1255.9L284.5 1257.3L285.5 1259.7L286.5 1260.9L287.5 1260.9L288.5 1260.9L289.5 1260.9L290.5 1260.9L291.5 1260.9L292.5 1260.9L293.5 1260.9L294.5 1260.9L295.5 1260.9L296.5 1260.9L297.5 1261.7L298.5 1263.0L299.5 1264.2L300.5 1264.5L301.5 1263.3L302.5 1262.0L303.5 1260.9L304.5 1260.9L305.5 1260.9L306.5 1260.9L307.5 1260.9L308.5 1260.9L309.5 1260.9L310.5 1260.9L311.5 1260.9L312.5 1260.9L313.5 1260.9L314.5 1260.9L315.5 1260.9L316.5 1260.9L317.5 1260.9L318.5 1260.9L319.5 1258.9L320.5 1256.6L321.5 1255.9L322.5 1255.9L323.5 1255.9L324.5 1255.9L325.5 1255.9L326.5 1255.9L327.5 1255.9L328.5 1255.9L329.5 1255.9L330.5 1255.9L331.5 1255.9L332.5 1255.9L333.5 1255.9L334.5 1255.9L335.5 1255.9L336.5 1256.8L337.5 1258.3L338.5 1259.9L339.5 1260.9L340.5 1260.9L341.5 1260.9L342.5 1260.9L343.5 1260.9L344.5 1260.9L345.5 1260.9L346.5 1260.9L347.5 1260.9L348.5 1260.9L349.5 1260.9L350.5 1260.9L351.5 1260.9L352.5 1260.9L353.5 1260.9L354.5 1260.8L355.5 1259.2"/>
<path stroke="#FF80FF" d="M427.0 1245.9L428.0 1245.8L429.0 1245.8L430.0 1245.8L431.0 1245.8L432.0 1245.8L433.0 1245.8L434.0 1245.8L435.0 1245.8L436.0 1245.8L437.0 1245.8L438.0 1245.8L439.0 1245.8"/>
<path stroke="#FF80FF" d="M451.0 1245.8L452.0 1245.8L453.0 1245.8L454.0 1245.8L455.0 1245.8L456.0 1246.2L457.0 1246.8L458.0 1246.4L459.0 1246.0L460.0 1245.9L461.0 1246.1L462.0 1246.6L463.0 1247.9L464.0 1249.3L465.0 1248.2L466.0 1247.1L467.0 1246.0L468.0 1245.8L469.0 1245.8"/>
<path stroke="#FF80FF" d="M490.0 1235.7L491.0 1235.7L492.0 1235.7L493.0 1235.7L494.0 1235.7L495.0 1235.7L496.0 1235.7L497.0 1235.7L498.0 1235.7L499.0 1235.7L500.0 1236.2L501.0 1238.0L502.0 1236.4L503.0 1235.7L504.0 1235.7L505.0 1235.7L506.0 1235.7L507.0 1235.7L508.0 1235.7L509.0 1237.0L510.0 1237.7L511.0 1236.5L512.0 1235.7L513.0 1235.7L514.0 1235.7L515.0 1235.7L516.0 1235.7"/>
<path stroke="#FF80FF" d="M1080.0 485.0L1081.0 487.0L1082.0 489.5L1083.0 492.1L1084.0 494.6L1085.0 497.2L1086.0 499.0L1087.0 500.8L1088.0 502.6L1089.0 504.4L1090.0 506.2L1091.0 508.1L1092.0 509.9L1093.0 511.7L1094.0 513.5L1095.0 515.3L1096.0 516.3L1097.0 517.4L1098.0 518.4L1099.0 519.4L1100.0 520.5L1101.0 521.5L1102.0 522.5L1103.0 523.6L1104.0 524.6L1105.0 525.6L1106.0 526.7L1107.0 527.7L1108.0 528.8L1109.0 529.9L1110.0 530.9L1111.0 532.0L1112.0 533.0L1113.0 534.1L1114.0 535.2L1115.0 536.2L1116.0 537.3L1117.0 538.4L1118.0 539.4L1119.0 540.5L1120.0 541.5L1121.0 543.0L1122.0 544.5L1123.0 546.0L1124.0 547.5L1125.0 549.0L1126.0 550.5L1127.0 552.0L1128.0 553.3L1129.0 554.4L1130.0 555.5L1131.0 556.6L1132.0 557.8L1133.0 558.9L1134.0 560.0L1135.0 561.1L1136.0 562.3L1137.0 563.4L1138.0 564.5L1139.0 565.6L1140.0 566.8L1141.0 567.9L1142.0 569.1L1143.0 570.5L1144.0 571.9L1145.0 573.3L1146.0 574.7L1147.0 576.1L1148.0 577.5L1149.0 578.9"/>
<path stroke="#FF80FF" d="M1150.0 578.8L1151.0 580.1L1152.0 581.1L1153.0 582.1L1154.0 583.1L1155.0 584.1L1156.0 585.1L1157.0 586.1L1158.0 587.1L1159.0 588.1L1160.0 589.1L1161.0 590.1L1162.0 591.1L1163.0 592.1L1164.0 593.1L1165.0 594.1L1166.0 595.4L1167.0 596.9L1168.0 598.4L1169.0 599.9L1170.0 601.4L1171.0 602.9L1172.0 604.3L1173.0 605.8L1174.0 607.3L1175.0 608.8L1176.0 610.2L1177.0 611.2L1178.0 612.2L1179.0 613.3L1180.0 614.3L1181.0 615.3L1182.0 616.4L1183.0 617.4L1184.0 618.4L1185.0 619.5L1186.0 620.5L1187.0 621.5L1188.0 623.8L1189.0 626.0"/>
<path stroke="#FF80FF" d="M271.4 1251.6L274.1 1254.1L278.4 1251.6L283.9 1251.6L286.0 1256.6L296.9 1256.6L300.1 1260.7L303.4 1256.6L318.6 1256.6L320.8 1251.6L335.9 1251.6L339.2 1256.6L354.4 1256.6L357.6 1251.6L409.7 1251.6L413.0 1246.5L416.2 1247.5L418.4 1248.6L422.7 1247.5L427.1 1241.5L455.3 1241.5L456.9 1242.5L459.6 1241.5L461.8 1242.0L464.0 1245.0L467.2 1241.5L473.7 1241.5L475.9 1236.4L484.6 1235.9L487.8 1231.4L499.8 1231.4L500.8 1233.9L502.5 1231.4L508.4 1231.4L509.5 1233.9L511.7 1231.4L543.2 1231.4L544.8 1226.3L551.8 1226.3L553.5 1231.4L555.1 1231.4L557.3 1226.3L598.5 1226.3L601.8 1221.3L630.0 1221.3L634.3 1228.9L638.6 1221.3L651.7 1221.3L653.8 1216.2L662.5 1216.2L664.7 1211.2L674.4 1211.2L677.7 1206.1L685.3 1206.1L694.3 1195.4L697.9 1188.5L702.5 1183.5L707.0 1180.0L716.6 1153.7L721.4 1115.3L726.2 1079.4L728.6 1043.5L734.6 986.0L739.4 918.9L743.0 851.9L750.9 780.0L782.7 453.2L791.8 398.9L798.1 362.7L807.7 326.6L813.3 302.2L828.3 274.1L842.4 256.8L856.3 245.6L866.5 240.7L877.3 237.1L886.4 236.2L896.3 237.1L900.8 240.1L906.3 241.6L912.9 246.3L925.1 257.1L934.1 271.8L945.0 294.0L954.4 322.4L963.0 345.9L972.3 364.6L976.8 377.2L984.4 382.6L995.6 394.6L1005.9 411.8L1012.8 434.5L1020.0 454.4L1021.7 466.3L1025.6 467.6L1027.1 475.2L1032.2 480.6L1037.1 475.2L1043.4 468.8L1052.4 464.3L1065.8 472.3L1080.3 482.2L1085.0 494.1L1094.9 512.2L1105.6 523.3L1120.1 538.6L1127.3 549.5L1141.8 565.8L1150.8 578.4L1165.3 592.9L1175.8 608.4L1187.0 620.0L1195.5 639.0L1206.3 655.3L1216.1 668.6L1222.1 674.1L1228.2 667.7L1245.4 646.8L1255.9 633.6L1264.0 628.9L1277.4 624.7L1289.0 613.9L1296.6 595.0L1307.4 566.1L1315.7 554.9L1322.8 552.9L1330.0 556.0L1336.9 565.2L1346.3 580.9L1350.8 595.0L1357.9 616.4L1368.7 654.4L1383.2 707.1L1390.4 734.2L1396.7 761.4L1403.1 788.5L1411.7 815.6L1421.1 839.1L1430.2 860.8L1442.8 880.7L1455.5 898.8L1468.2 916.9L1480.8 933.2L1496.4 961.7L1510.8 983.4L1521.7 1001.5L1532.5 1021.4L1543.4 1039.5L1554.2 1057.5L1565.1 1075.6L1575.9 1093.7L1586.8 1111.8L1597.6 1128.1L1610.3 1144.3L1622.9 1160.6L1637.4 1178.7L1651.9 1195.0L1681.4 1230.5L1692.2 1239.8L1703.1 1246.4L1711.2 1251.8L1718.0 1256.2L1728.8 1263.8L1738.3 1269.2L1746.5 1275.3L1756.0 1279.6L1765.5 1283.7L1779.0 1286.3L1792.6 1289.7L1806.2 1295.1L1817.0 1299.8L1827.9 1301.3L1836.0 1301.3L1841.4 1306.2L1882.8 1306.2L1883.1 1306.2L1884.5 1312.4L1953.0 1312.4L1955.0 1316.9L2167.0 1316.9"/>
</g>
<g stroke-width="8.2" stroke-linecap="round">
<line x1="1709" y1="134.9" x2="1862" y2="134.9" stroke="#FF8080"/>
<line x1="1709" y1="218.8" x2="1862" y2="218.8" stroke="#00B4B4"/>
<line x1="1709" y1="302.4" x2="1862" y2="302.4" stroke="#00AAFF"/>
<line x1="1709" y1="386.0" x2="1862" y2="386.0" stroke="#FF80FF"/>
</g>
<g font-family="'Liberation Serif', serif" font-size="70" fill="#000" style="font-kerning:none">
<text transform="translate(1880.5,156.9) scale(0.957,1)">0min</text>
<text transform="translate(1880.5,240.8) scale(0.957,1)">30min</text>
<text transform="translate(1880.5,324.4) scale(0.957,1)">90min</text>
<text transform="translate(1883.0,408.0) scale(0.937,1)">110min</text>
</g>
<g font-family="'Liberation Serif', serif" font-size="53" fill="#000" style="font-kerning:none">
<text x="826.5" y="199.2">263</text>
<text x="1284" y="494.5">311</text>
</g>
<g font-family="'Liberation Sans', sans-serif" font-size="55" fill="#000" style="font-kerning:none">
<text x="224.3" y="1328.0" text-anchor="end">0.0</text>
<text x="224.3" y="1075.5" text-anchor="end">0.5</text>
<text x="224.3" y="822.9" text-anchor="end">1.0</text>
<text x="224.3" y="570.4" text-anchor="end">1.5</text>
<text x="224.3" y="317.8" text-anchor="end">2.0</text>
<text x="224.3" y="65.3" text-anchor="end">2.5</text>
<text x="271.5" y="1527.4" text-anchor="middle">200</text>
<text x="1218.0" y="1527.4" text-anchor="middle">300</text>
<text x="2164.5" y="1527.4" text-anchor="middle">400</text>
</g>
<g font-family="'Liberation Serif', serif" font-size="80" fill="#000" style="font-kerning:none">
<text x="1250" y="1646" text-anchor="middle">Wavenumber (nm)</text>
<text transform="translate(78.8,736.3) rotate(-90) scale(1.022,1)" text-anchor="middle">Absorbance</text>
</g>
</svg>
</body></html>
